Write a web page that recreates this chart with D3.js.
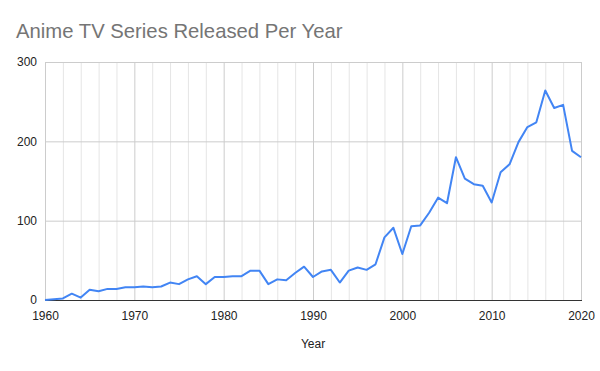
<!DOCTYPE html>
<html>
<head>
<meta charset="utf-8">
<script src="https://cdn.jsdelivr.net/npm/d3@7"></script>
<style>
  html, body { margin: 0; padding: 0; background: #fff; }
  svg { display: block; font-family: Arial, "Liberation Sans", sans-serif; }
</style>
</head>
<body>
<svg id="chart" width="600" height="371"></svg>
<script>
// Anime TV series per year
const years = d3.range(1960, 2021);
const counts = [
  0, 1, 2, 8, 3, 13, 11, 14, 14, 16,      // 1960s
  16, 17, 16, 17, 22, 20, 26, 30, 20, 29, // 1970s
  29, 30, 30, 37, 37, 20, 26, 25, 34, 42, // 1980s
  29, 36, 38, 22, 37, 41, 38, 45, 79, 91, // 1990s
  58, 93, 94, 110, 129, 122, 180, 153, 146, 144, // 2000s
  123, 161, 171, 199, 218, 224, 264, 242, 246, 188, // 2010s
  180                                     // 2020
];
const yTicks = [0, 100, 200, 300];
const xTicks = [1960, 1970, 1980, 1990, 2000, 2010, 2020];
const minorYears = d3.range(1960, 2021, 2).filter(y => y % 10 !== 0);

const W = 600, H = 371;
const M = { top: 62, right: 19, bottom: 71, left: 45 };
const C = {
  line: "#4285f4",
  major: "#cccccc",
  minor: "#e5e5e5",
  base: "#333333",
  label: "#222222",
  title: "#757575",
};

const svg = d3.select("#chart");
const x = d3.scaleLinear().domain([1960, 2020]).range([M.left, W - M.right]);
const y = d3.scaleLinear().domain([0, 300]).range([H - M.bottom, M.top]);

// grid
const grid = svg.append("g");
grid.selectAll("line.minor").data(minorYears).join("line")
  .attr("class", "minor")
  .attr("x1", d => x(d) + 0.5).attr("x2", d => x(d) + 0.5)
  .attr("y1", y(300)).attr("y2", y(0))
  .attr("stroke", C.minor).attr("stroke-width", 1);
grid.selectAll("line.vmajor").data(xTicks).join("line")
  .attr("class", "vmajor")
  .attr("x1", d => x(d) + 0.5).attr("x2", d => x(d) + 0.5)
  .attr("y1", y(300)).attr("y2", y(0))
  .attr("stroke", C.major).attr("stroke-width", 1);
grid.selectAll("line.hmajor").data(yTicks.slice(1)).join("line")
  .attr("class", "hmajor")
  .attr("x1", x(1960)).attr("x2", x(2020) + 1)
  .attr("y1", d => y(d) + 0.5).attr("y2", d => y(d) + 0.5)
  .attr("stroke", C.major).attr("stroke-width", 1);

// axes
const gx = svg.append("g").attr("transform", `translate(0,${y(0)})`)
  .call(d3.axisBottom(x).tickValues(xTicks).tickFormat(d3.format("d")).tickSize(0).tickPadding(11));
const gy = svg.append("g").attr("transform", `translate(${M.left},0)`)
  .call(d3.axisLeft(y).tickValues(yTicks).tickSize(0).tickPadding(8));
[gx, gy].forEach(g => {
  g.select(".domain").remove();
  g.selectAll("text").attr("fill", C.label).attr("font-size", 12)
    .attr("font-family", "Arial, 'Liberation Sans', sans-serif");
});

// baseline
svg.append("line")
  .attr("x1", x(1960)).attr("x2", x(2020) + 1)
  .attr("y1", y(0) + 0.5).attr("y2", y(0) + 0.5)
  .attr("stroke", C.base).attr("stroke-width", 1);

// series
svg.append("path")
  .datum(counts)
  .attr("fill", "none").attr("stroke", C.line).attr("stroke-width", 2)
  .attr("stroke-linejoin", "round")
  .attr("d", d3.line().x((d, i) => x(years[i])).y(d => y(d)));

// titles
svg.append("text")
  .attr("x", 16).attr("y", 38)
  .attr("font-size", 20.3).attr("fill", C.title)
  .text("Anime TV Series Released Per Year");
svg.append("text")
  .attr("x", (x(1960) + x(2020)) / 2).attr("y", 348)
  .attr("text-anchor", "middle").attr("font-size", 12).attr("fill", C.label)
  .text("Year");
</script>
</body>
</html>
